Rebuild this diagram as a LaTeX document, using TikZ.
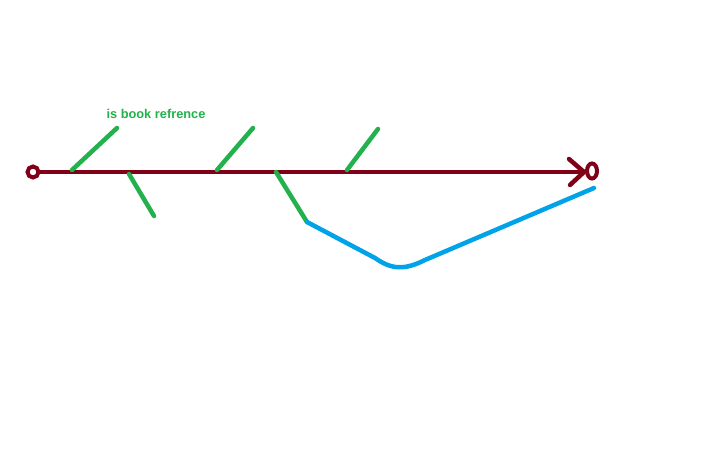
\documentclass[tikz,border=0pt]{standalone}
\usepackage{fontspec}
\setmainfont{Liberation Sans}
\definecolor{spine}{RGB}{128,0,24}
\definecolor{bone}{RGB}{34,177,76}
\definecolor{path}{RGB}{0,162,232}
\tikzset{
  spineline/.style={color=spine,line width=4.5pt},
  boneline/.style={color=bone,line width=4.5pt,line cap=round},
  pathline/.style={color=path,line width=4.5pt,line cap=round}
}
\begin{document}
\begin{tikzpicture}[x=1pt,y=-1pt]
\useasboundingbox (0,0) rectangle (724,460);
\coordinate (start) at (33,172);
\coordinate (finish) at (592,171);
\coordinate (tip) at (584,172);
\draw [spineline](start) ++(5,0) -- (tip);
\draw [spineline,line cap=round,line join=round](569,159) -- (tip) -- (570,185);
\draw [spineline,line width=4pt](start) circle (5.5);
\draw [spineline,line width=4pt](finish) ellipse (5 and 7.5);
% bones
\draw [boneline](72,170) -- (117,128);
\draw [boneline](129,174) -- (154,216);
\draw [boneline](217,170) -- (253,128);
\coordinate (bend) at (307,222);
\draw [boneline](276,172) -- (bend);
\draw [boneline](347,170) -- (378,129);
% path
\draw [pathline](bend) -- (375,258) .. controls (392,270) and (405,270) .. (425,260) -- (594,188);
\node [color=bone,font=\bfseries\fontsize{12.8}{15}\selectfont] (label) at (156,114) {is book refrence};
\end{tikzpicture}
\end{document}
